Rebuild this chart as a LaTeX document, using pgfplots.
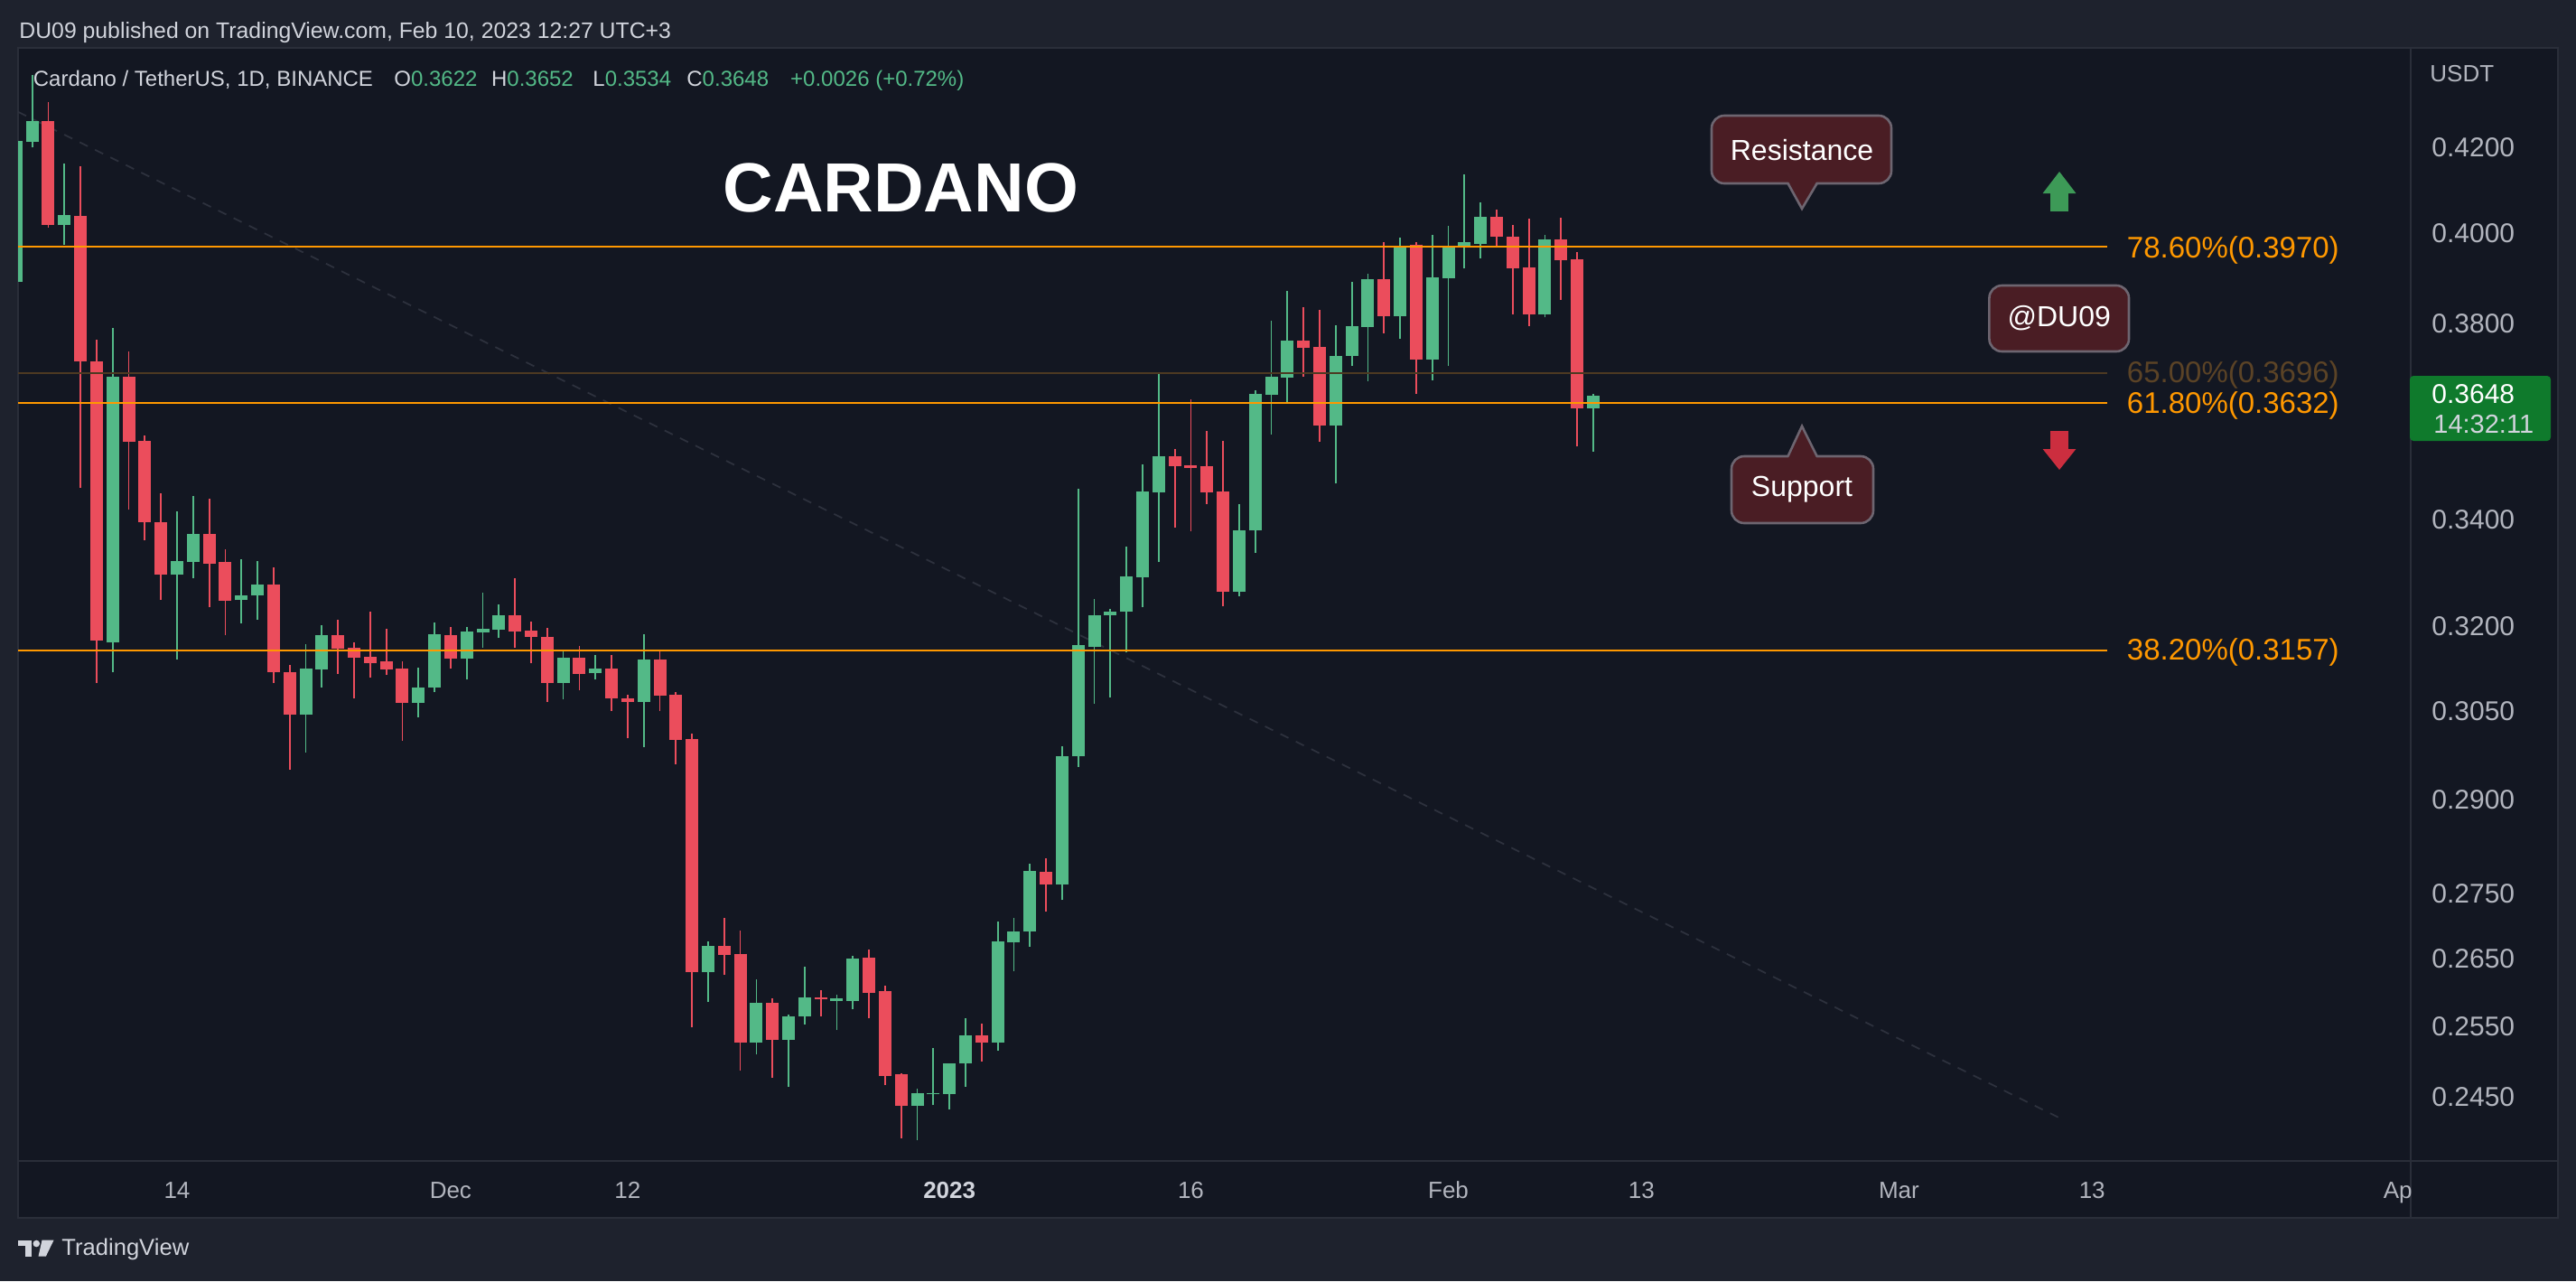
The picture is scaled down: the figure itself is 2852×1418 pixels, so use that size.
\documentclass[border=0pt]{standalone}
\usepackage{pgfplots}
\pgfplotsset{compat=1.18}
\usepackage{pgfplotstable}
\usepackage{fontspec}
\setmainfont{Liberation Sans}

\definecolor{outerbg}{HTML}{1E222D}
\definecolor{panelbg}{HTML}{131722}
\definecolor{bordc}{HTML}{2A2E39}
\definecolor{textgray}{HTML}{B2B5BE}
\definecolor{textlight}{HTML}{D1D4DC}
\definecolor{cgreen}{HTML}{53B987}
\definecolor{cred}{HTML}{EB4D5C}
\definecolor{fibor}{HTML}{FF9800}
\definecolor{fibbrown}{HTML}{4D3A22}
\definecolor{fibbrowntxt}{HTML}{5B4326}
\definecolor{trendc}{HTML}{2D313D}
\definecolor{callfill}{HTML}{4A1D24}
\definecolor{callline}{HTML}{6D6570}
\definecolor{arrowup}{HTML}{3D9A57}
\definecolor{arrowdn}{HTML}{CC2E3F}
\definecolor{pricebox}{HTML}{0F7A2C}

% daily candles, d = days from 14 Nov 2022
\pgfplotstableread{
d o h l c
-10 0.3892 0.4250 0.3850 0.4214
-9 0.4213 0.4375 0.4199 0.4263
-8 0.4263 0.4309 0.4013 0.4018
-7 0.4018 0.4161 0.3974 0.4042
-6 0.4040 0.4155 0.3462 0.3720
-5 0.3719 0.3765 0.3099 0.3174
-4 0.3171 0.3792 0.3118 0.3687
-3 0.3687 0.3740 0.3419 0.3554
-2 0.3555 0.3567 0.3361 0.3395
-1 0.3395 0.3452 0.3249 0.3295
0 0.3295 0.3417 0.3141 0.3322
1 0.3319 0.3447 0.3289 0.3372
2 0.3372 0.3441 0.3235 0.3317
3 0.3319 0.3344 0.3184 0.3247
4 0.3248 0.3324 0.3206 0.3258
5 0.3257 0.3321 0.3212 0.3278
6 0.3278 0.3310 0.3099 0.3118
7 0.3119 0.3131 0.2951 0.3044
8 0.3044 0.3168 0.2980 0.3124
9 0.3123 0.3202 0.3092 0.3184
10 0.3184 0.3212 0.3115 0.3160
11 0.3161 0.3171 0.3072 0.3144
12 0.3145 0.3227 0.3108 0.3135
13 0.3137 0.3196 0.3113 0.3123
14 0.3124 0.3137 0.2999 0.3064
15 0.3064 0.3127 0.3040 0.3091
16 0.3091 0.3207 0.3083 0.3186
17 0.3184 0.3199 0.3124 0.3142
18 0.3142 0.3199 0.3105 0.3191
19 0.3189 0.3263 0.3161 0.3196
20 0.3194 0.3240 0.3179 0.3220
21 0.3220 0.3289 0.3161 0.3191
22 0.3192 0.3210 0.3134 0.3181
23 0.3182 0.3197 0.3066 0.3099
24 0.3100 0.3156 0.3070 0.3144
25 0.3144 0.3165 0.3086 0.3115
26 0.3116 0.3148 0.3105 0.3124
27 0.3124 0.3148 0.3050 0.3072
28 0.3072 0.3078 0.3003 0.3066
29 0.3066 0.3186 0.2989 0.3140
30 0.3140 0.3156 0.3051 0.3077
31 0.3078 0.3084 0.2960 0.3000
32 0.3002 0.3011 0.2549 0.2630
33 0.2630 0.2676 0.2586 0.2670
34 0.2670 0.2712 0.2626 0.2656
35 0.2658 0.2693 0.2487 0.2527
36 0.2527 0.2619 0.2510 0.2585
37 0.2585 0.2591 0.2477 0.2531
38 0.2531 0.2568 0.2464 0.2565
39 0.2565 0.2638 0.2553 0.2593
40 0.2593 0.2603 0.2565 0.2590
41 0.2588 0.2597 0.2545 0.2591
42 0.2588 0.2655 0.2575 0.2650
43 0.2652 0.2664 0.2562 0.2600
44 0.2602 0.2610 0.2467 0.2480
45 0.2482 0.2483 0.2394 0.2438
46 0.2438 0.2462 0.2391 0.2456
47 0.2454 0.2519 0.2439 0.2456
48 0.2455 0.2498 0.2433 0.2497
49 0.2497 0.2563 0.2465 0.2537
50 0.2537 0.2554 0.2500 0.2527
51 0.2527 0.2707 0.2516 0.2676
52 0.2675 0.2712 0.2632 0.2691
53 0.2691 0.2797 0.2669 0.2785
54 0.2784 0.2806 0.2722 0.2765
55 0.2765 0.2990 0.2740 0.2973
56 0.2973 0.3460 0.2955 0.3166
57 0.3164 0.3251 0.3063 0.3220
58 0.3220 0.3233 0.3074 0.3228
59 0.3227 0.3349 0.3153 0.3292
60 0.3291 0.3508 0.3235 0.3455
61 0.3454 0.3697 0.3319 0.3524
62 0.3524 0.3539 0.3385 0.3505
63 0.3506 0.3640 0.3377 0.3502
64 0.3505 0.3576 0.3431 0.3454
65 0.3455 0.3555 0.3237 0.3264
66 0.3264 0.3431 0.3256 0.3379
67 0.3379 0.3658 0.3337 0.3652
68 0.3650 0.3807 0.3569 0.3688
69 0.3685 0.3871 0.3632 0.3764
70 0.3764 0.3835 0.3688 0.3749
71 0.3750 0.3830 0.3553 0.3586
72 0.3586 0.3797 0.3470 0.3731
73 0.3731 0.3891 0.3710 0.3795
74 0.3794 0.3909 0.3678 0.3897
75 0.3897 0.3979 0.3779 0.3816
76 0.3816 0.3990 0.3768 0.3973
77 0.3975 0.3981 0.3652 0.3724
78 0.3724 0.3997 0.3680 0.3901
79 0.3899 0.4016 0.3710 0.3970
80 0.3971 0.4135 0.3921 0.3979
81 0.3977 0.4070 0.3944 0.4037
82 0.4037 0.4053 0.3973 0.3992
83 0.3992 0.4018 0.3820 0.3921
84 0.3923 0.4033 0.3795 0.3820
85 0.3820 0.3997 0.3814 0.3987
86 0.3987 0.4035 0.3853 0.3939
87 0.3941 0.3957 0.3544 0.3622
88 0.3622 0.3652 0.3534 0.3648
}\ohlc

\begin{document}
\begin{tikzpicture}
% frame (1 unit = 1 reference pixel, y downwards)
\begin{scope}[x=0.5pt,y=-0.5pt]
\fill[outerbg] (0,0) rectangle (2852,1418);
\fill[panelbg] (20,52.7) rectangle (2832,1347.7);
\draw[bordc, line width=1pt] (20,52.7) rectangle (2832,1347.7);
\draw[bordc, line width=1.2pt] (20,1285) -- (2832,1285);
\draw[bordc, line width=1pt] (2669,52.7) -- (2669,1347.7);
\end{scope}

\begin{axis}[
  at={(10pt,-642.5pt)}, anchor=south west,
  scale only axis, width=1324.5pt, height=616.15pt,
  xmin=-9.877, xmax=138.8,
  ymode=log, ymin=0.2363, ymax=0.4444,
  axis line style={draw=none},
  tick style={draw=none},
  xtick={0,17,28,48,63,79,91,107,119,138},
  xticklabels={14,Dec,12,{\textcolor{textlight}{\bfseries 2023}},16,Feb,13,Mar,13,Ap},
  xticklabel style={anchor=base, inner sep=0pt, yshift=-20.85pt,
    font=\fontsize{13}{15}\selectfont, text=textgray},
  ytick={0.245,0.255,0.265,0.275,0.29,0.305,0.32,0.34,0.38,0.40,0.42},
  yticklabels={0.2450,0.2550,0.2650,0.2750,0.2900,0.3050,0.3200,0.3400,0.3800,0.4000,0.4200},
  yticklabel pos=right,
  yticklabel style={anchor=west, inner sep=0pt, xshift=11.5pt,
    font=\fontsize{15}{17}\selectfont, text=textgray},
  clip=true,
]
% trend line behind the candles
\addplot[draw=trendc, line width=0.9pt, dash pattern=on 5pt off 4.5pt, forget plot]
  coordinates {(-9.877,0.4285) (117.3,0.2418)};

\pgfplotsinvokeforeach{0,...,98}{%
  \pgfplotstablegetelem{#1}{d}\of\ohlc \let\vD\pgfplotsretval
  \pgfplotstablegetelem{#1}{o}\of\ohlc \let\vO\pgfplotsretval
  \pgfplotstablegetelem{#1}{h}\of\ohlc \let\vH\pgfplotsretval
  \pgfplotstablegetelem{#1}{l}\of\ohlc \let\vL\pgfplotsretval
  \pgfplotstablegetelem{#1}{c}\of\ohlc \let\vC\pgfplotsretval
  \pgfmathtruncatemacro\isup{\vC>=\vO}%
  \ifnum\isup=1 \def\ccol{cgreen}\else\def\ccol{cred}\fi
  \edef\candle{%
    \noexpand\addplot[draw=\ccol, line width=0.9pt, forget plot]
      coordinates {(\vD,\vL) (\vD,\vH)};
    \noexpand\addplot[draw=\ccol, line width=7pt, forget plot]
      coordinates {(\vD,\vO) (\vD,\vC)};
  }\candle
}

% fibonacci levels
\addplot[draw=fibor, line width=1pt, forget plot] coordinates {(-9.877,0.3970) (119.92,0.3970)};
\addplot[draw=fibbrown, line width=1pt, forget plot] coordinates {(-9.877,0.3696) (119.92,0.3696)};
\addplot[draw=fibor, line width=1pt, forget plot] coordinates {(-9.877,0.3632) (119.92,0.3632)};
\addplot[draw=fibor, line width=0.9pt, forget plot] coordinates {(-9.877,0.3157) (119.92,0.3157)};
\end{axis}

\begin{scope}[x=0.5pt,y=-0.5pt]
% fib labels
\begin{scope}[font=\fontsize{16.5}{18}\selectfont]
\node[anchor=west, inner sep=0pt, text=fibor] at (2354.5,276.7) {78.60\%(0.3970)};
\node[anchor=west, inner sep=0pt, text=fibbrowntxt] at (2354.5,415) {65.00\%(0.3696)};
\node[anchor=west, inner sep=0pt, text=fibor] at (2354.5,449) {61.80\%(0.3632)};
\node[anchor=west, inner sep=0pt, text=fibor] at (2354.5,722) {38.20\%(0.3157)};
\end{scope}

% header and legend
\node[anchor=base west, inner sep=0pt, text=textlight, font=\fontsize{12.4}{14}\selectfont]
  at (21,42.7) {DU09 published on TradingView.com, Feb 10, 2023 12:27 UTC+3};
\begin{scope}[font=\fontsize{12}{14}\selectfont]
\node[anchor=base west, inner sep=0pt, text=textlight] at (36.5,96) {Cardano / TetherUS, 1D, BINANCE};
\node[anchor=base west, inner sep=0pt, text=textlight] at (436,96) {O\textcolor{cgreen}{0.3622}};
\node[anchor=base west, inner sep=0pt, text=textlight] at (543.7,96) {H\textcolor{cgreen}{0.3652}};
\node[anchor=base west, inner sep=0pt, text=textlight] at (656,96) {L\textcolor{cgreen}{0.3534}};
\node[anchor=base west, inner sep=0pt, text=textlight] at (760,96) {C\textcolor{cgreen}{0.3648}};
\node[anchor=base west, inner sep=0pt, text=cgreen] at (874.8,96) {+0.0026 (+0.72\%)};
\end{scope}

% title
\node[text=white, inner sep=0pt, font=\fontsize{38.5}{40}\selectfont\bfseries] at (997.3,207.7) {CARDANO};

% callouts
\filldraw[fill=callfill, draw=callline, line width=1.3pt, rounded corners=7pt] (1895,128) rectangle (2094,203);
\fill[callfill] (1979.5,200) -- (1995,231) -- (2011.6,200) -- cycle;
\draw[callline, line width=1.3pt] (1979.5,203) -- (1995,231) -- (2011.6,203);
\node[text=white, font=\fontsize{16}{18}\selectfont] at (1995,165.7) {Resistance};

\filldraw[fill=callfill, draw=callline, line width=1.3pt, rounded corners=7pt] (1917,505) rectangle (2074,579);
\fill[callfill] (1979.5,508) -- (1995,471.7) -- (2011.6,508) -- cycle;
\draw[callline, line width=1.3pt] (1979.5,505) -- (1995,471.7) -- (2011.6,505);
\node[text=white, font=\fontsize{16}{18}\selectfont] at (1995,542) {Support};

\filldraw[fill=callfill, draw=callline, line width=1.3pt, rounded corners=7pt] (2202.4,316) rectangle (2357,389);
\node[text=white, font=\fontsize{16}{18}\selectfont] at (2279.7,352.5) {@DU09};

% arrows
\fill[arrowup] (2261.6,214) -- (2280,190) -- (2298.4,214) -- cycle;
\fill[arrowup] (2270.3,213) rectangle (2289.7,233.7);
\fill[arrowdn] (2270.3,477) rectangle (2289.7,498);
\fill[arrowdn] (2261.6,497) -- (2280,520) -- (2298.4,497) -- cycle;

% price scale extras
\node[anchor=west, inner sep=0pt, text=textgray, font=\fontsize{13}{15}\selectfont] at (2690,82) {USDT};
\fill[pricebox, rounded corners=2pt] (2668,416) rectangle (2824,488);
\node[anchor=west, inner sep=0pt, text=white, font=\fontsize{15}{17}\selectfont] at (2692,436) {0.3648};
\node[anchor=west, inner sep=0pt, text=textlight, font=\fontsize{14.5}{17}\selectfont] at (2694,470) {14:32:11};

% footer logo
\fill[textlight] (20,1372.7) rectangle (35,1378.5);
\fill[textlight] (27.5,1372.7) rectangle (35,1390.7);
\fill[textlight] (40.3,1376.5) circle[radius=1.9pt];
\fill[textlight] (46.5,1372.7) -- (59.5,1372.7) -- (50.8,1390.7) -- (42.5,1390.7) -- cycle;
\node[anchor=west, inner sep=0pt, text=textlight, font=\fontsize{12.8}{15}\selectfont] at (68,1383) {TradingView};
\end{scope}
\end{tikzpicture}
\end{document}
